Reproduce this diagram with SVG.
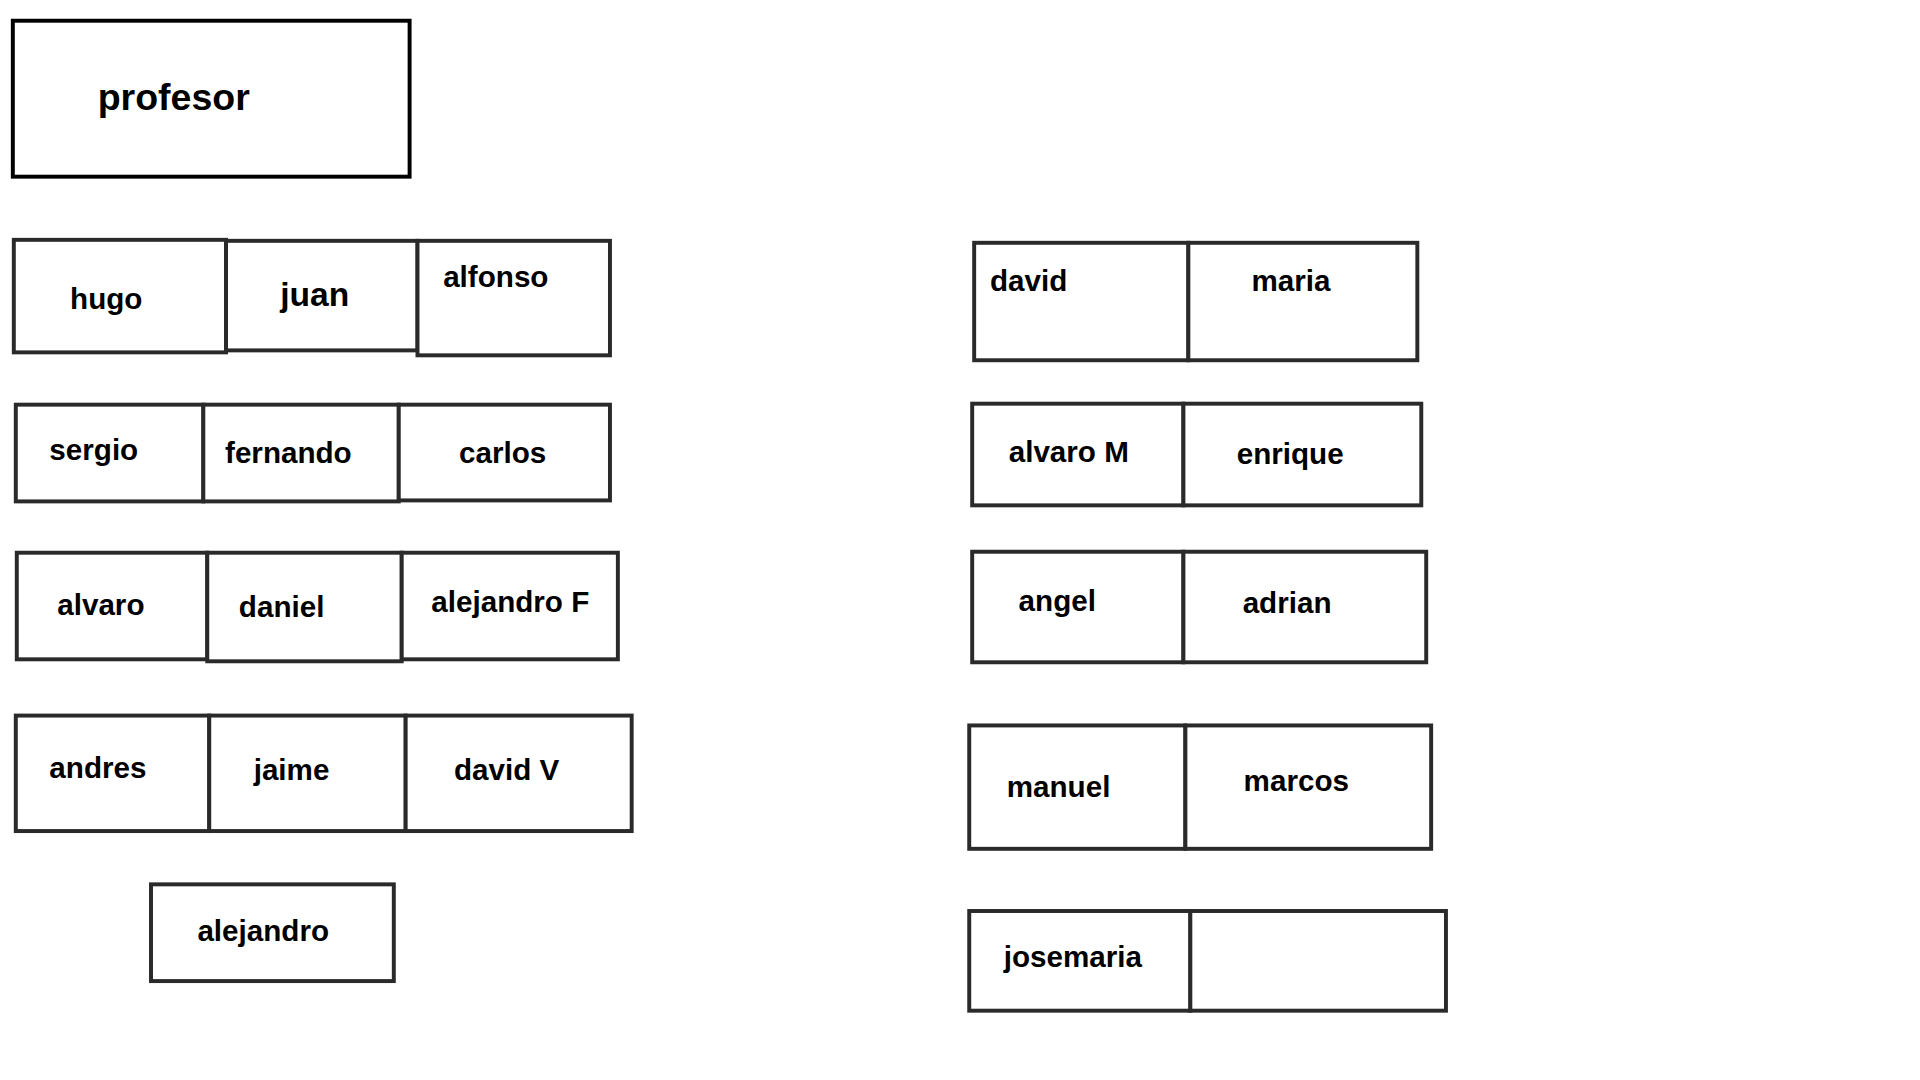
<svg xmlns="http://www.w3.org/2000/svg" width="1920" height="1080" viewBox="0 0 1920 1080">
<style>
.b{fill:#fff;stroke:#2a2a2a;stroke-width:4}
.p{fill:#fff;stroke:#000;stroke-width:4}
text{font-family:"Liberation Sans",Arial,sans-serif;font-weight:bold;font-size:30px;fill:#000}
.big{font-size:38px}
.mid{font-size:34px}
</style>
<rect width="1920" height="1080" fill="#fff"/>
<g transform="scale(0.987)">
<g id="profesor"><rect class="p" x="13" y="21" width="402" height="158"/><text class="big" x="99" y="111">profesor</text></g>
<g id="hugo"><rect class="b" x="14" y="243" width="215" height="114"/><text x="71" y="313">hugo</text></g>
<g id="juan"><rect class="b" x="229" y="244" width="194" height="111"/><text class="mid" x="284" y="310">juan</text></g>
<g id="alfonso"><rect class="b" x="423" y="244" width="195" height="116"/><text x="449" y="291">alfonso</text></g>
<g id="sergio"><rect class="b" x="16" y="410" width="190" height="98"/><text x="50" y="466">sergio</text></g>
<g id="fernando"><rect class="b" x="206" y="410" width="198" height="98"/><text x="228" y="469">fernando</text></g>
<g id="carlos"><rect class="b" x="404" y="410" width="214" height="97"/><text x="465" y="469">carlos</text></g>
<g id="alvaro"><rect class="b" x="17" y="560" width="193" height="108"/><text x="58" y="623">alvaro</text></g>
<g id="daniel"><rect class="b" x="210" y="560" width="197" height="110"/><text x="242" y="625">daniel</text></g>
<g id="alejandroF"><rect class="b" x="407" y="560" width="219" height="108"/><text x="437" y="620">alejandro F</text></g>
<g id="andres"><rect class="b" x="16" y="725" width="196" height="117"/><text x="50" y="788">andres</text></g>
<g id="jaime"><rect class="b" x="212" y="725" width="199" height="117"/><text x="257" y="790">jaime</text></g>
<g id="davidV"><rect class="b" x="411" y="725" width="229" height="117"/><text x="460" y="790">david V</text></g>
<g id="alejandro"><rect class="b" x="153" y="896" width="246" height="98"/><text x="200" y="953">alejandro</text></g>
<g id="david"><rect class="b" x="987" y="246" width="217" height="119"/><text x="1003" y="295">david</text></g>
<g id="maria"><rect class="b" x="1204" y="246" width="232" height="119"/><text x="1268" y="295">maria</text></g>
<g id="alvaroM"><rect class="b" x="985" y="409" width="214" height="103"/><text x="1022" y="468">alvaro M</text></g>
<g id="enrique"><rect class="b" x="1199" y="409" width="241" height="103"/><text x="1253" y="470">enrique</text></g>
<g id="angel"><rect class="b" x="985" y="559" width="214" height="112"/><text x="1032" y="619">angel</text></g>
<g id="adrian"><rect class="b" x="1199" y="559" width="246" height="112"/><text x="1259" y="621">adrian</text></g>
<g id="manuel"><rect class="b" x="982" y="735" width="219" height="125"/><text x="1020" y="807">manuel</text></g>
<g id="marcos"><rect class="b" x="1201" y="735" width="249" height="125"/><text x="1260" y="801">marcos</text></g>
<g id="josemaria"><rect class="b" x="982" y="923" width="224" height="101"/><text x="1017" y="980">josemaria</text></g>
<g id="empty"><rect class="b" x="1206" y="923" width="259" height="101"/></g>
<g id="connectors"></g>
</g>
</svg>
